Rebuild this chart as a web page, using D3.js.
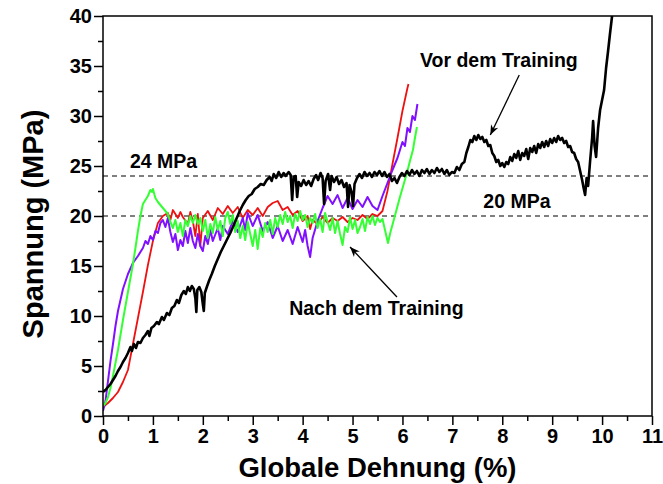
<!DOCTYPE html>
<html>
<head>
<meta charset="utf-8">
<script src="https://cdn.jsdelivr.net/npm/d3@7"></script>
<style>
  html, body { margin: 0; padding: 0; background: #fff; }
  svg { display: block; font-family: "Liberation Sans", Arial, sans-serif; font-weight: bold; }
</style>
</head>
<body>
<div id="chart"></div>
<script>
// Stress-strain curves: [strain %, stress MPa]
const vorTraining = [
  [0.00,2.4],[0.05,2.6],[0.10,2.9],[0.15,3.2],[0.20,3.6],[0.25,4.0],[0.30,4.5],[0.35,4.9],[0.40,5.4],[0.45,5.8],
  [0.50,6.3],[0.55,6.9],[0.58,6.5],[0.62,7.2],[0.66,6.8],[0.70,7.4],[0.75,7.3],[0.80,7.8],[0.85,8.1],[0.90,8.5],
  [0.93,8.0],[0.97,8.8],[1.02,9.0],[1.08,9.4],[1.12,9.2],[1.18,9.9],[1.22,9.6],[1.28,10.3],[1.33,10.1],[1.38,10.8],
  [1.43,11.0],[1.48,11.6],[1.52,11.3],[1.57,12.1],[1.62,12.5],[1.66,12.2],[1.70,12.9],[1.74,12.5],[1.78,13.0],[1.82,12.7],
  [1.85,11.8],[1.87,10.4],[1.89,12.6],[1.93,12.9],[1.97,12.4],[2.00,11.2],[2.02,10.5],[2.04,12.3],[2.08,12.9],[2.13,13.6],
  [2.18,14.2],[2.24,15.0],[2.30,15.7],[2.36,16.4],[2.42,17.0],[2.48,17.6],[2.55,18.3],[2.62,19.1],[2.68,19.8],[2.74,20.5],
  [2.80,21.1],[2.86,21.6],[2.92,22.0],[2.98,22.2],[3.04,22.7],[3.10,22.9],[3.16,23.2],[3.22,23.1],[3.28,23.6],[3.34,23.9],
  [3.38,23.5],[3.42,24.2],[3.47,23.8],[3.52,24.4],[3.57,23.9],[3.62,24.3],[3.66,24.0],[3.72,24.4],[3.76,24.1],[3.79,21.6],
  [3.82,23.9],[3.86,24.0],[3.89,21.9],[3.92,23.4],[3.97,23.0],[4.02,23.6],[4.07,23.1],[4.12,23.5],[4.17,23.0],[4.22,23.7],
  [4.27,24.1],[4.31,23.6],[4.36,24.3],[4.40,23.8],[4.43,21.2],[4.46,23.5],[4.51,24.2],[4.55,22.6],[4.58,24.0],[4.63,23.4],
  [4.68,23.9],[4.73,23.2],[4.78,23.6],[4.83,22.9],[4.88,23.3],[4.91,20.9],[4.94,23.1],[4.98,22.4],[5.01,21.0],[5.04,23.2],
  [5.09,23.8],[5.14,24.2],[5.19,23.8],[5.24,24.4],[5.29,24.0],[5.34,24.3],[5.39,23.9],[5.44,24.4],[5.49,24.1],[5.54,24.5],
  [5.59,24.0],[5.64,24.4],[5.69,23.9],[5.74,24.2],[5.79,23.5],[5.84,23.8],[5.89,23.3],[5.94,23.9],[5.99,24.3],[6.04,24.0],
  [6.09,24.5],[6.14,24.1],[6.19,24.6],[6.24,24.2],[6.29,24.5],[6.34,24.0],[6.39,24.6],[6.44,24.3],[6.49,24.7],[6.54,24.2],
  [6.59,24.6],[6.64,24.3],[6.69,24.8],[6.74,24.4],[6.79,24.7],[6.84,24.2],[6.89,24.6],[6.94,24.1],[6.99,24.4],[7.04,24.3],
  [7.09,24.9],[7.14,24.6],[7.19,25.2],[7.24,25.4],[7.28,26.3],[7.32,26.9],[7.36,27.6],[7.40,27.4],[7.44,28.0],[7.48,27.6],
  [7.52,28.1],[7.56,27.7],[7.60,27.9],[7.64,27.4],[7.68,27.6],[7.72,27.0],[7.76,27.1],[7.80,26.3],[7.84,26.0],[7.88,25.4],
  [7.92,25.6],[7.96,25.0],[8.00,25.3],[8.04,24.9],[8.08,25.4],[8.12,25.2],[8.16,25.9],[8.20,25.5],[8.24,26.2],[8.28,25.8],
  [8.32,26.5],[8.36,25.6],[8.40,26.3],[8.44,26.0],[8.48,26.7],[8.52,25.7],[8.56,26.8],[8.60,26.4],[8.64,27.0],[8.68,26.3],
  [8.72,27.2],[8.76,26.8],[8.80,27.4],[8.84,26.9],[8.88,27.5],[8.92,27.0],[8.96,27.7],[9.00,27.3],[9.04,27.8],[9.08,27.4],
  [9.12,28.0],[9.16,27.6],[9.20,27.8],[9.24,27.3],[9.28,27.5],[9.32,26.9],[9.36,27.0],[9.40,26.4],[9.44,26.3],[9.48,25.7],
  [9.52,25.4],[9.56,24.5],[9.60,23.6],[9.63,22.8],[9.66,22.1],[9.69,23.8],[9.72,23.0],[9.76,25.5],[9.80,27.8],[9.82,29.5],
  [9.85,27.0],[9.88,25.9],[9.92,28.8],[9.96,30.6],[10.00,31.6],[10.04,32.6],[10.08,34.8],[10.12,36.5],[10.16,38.3],[10.20,40.0]
];

const nachRot = [
  [0.00,0.8],[0.05,1.1],[0.10,1.3],[0.20,1.8],[0.30,2.4],[0.40,3.4],[0.50,4.6],[0.60,7.2],[0.70,9.8],[0.80,12.4],
  [0.90,15.1],[1.00,17.5],[1.10,19.3],[1.20,20.0],[1.30,20.3],[1.35,19.6],[1.40,20.6],[1.50,19.8],[1.55,20.4],[1.60,19.9],
  [1.70,19.2],[1.75,20.4],[1.80,19.5],[1.85,18.0],[1.90,20.2],[1.95,17.0],[2.00,19.8],[2.10,20.5],[2.20,19.6],[2.30,20.8],
  [2.40,20.2],[2.50,21.0],[2.60,20.3],[2.70,20.9],[2.80,19.8],[2.90,20.6],[3.00,20.1],[3.10,20.8],[3.20,20.0],[3.30,20.9],
  [3.40,21.3],[3.50,21.5],[3.60,20.6],[3.70,20.9],[3.80,20.1],[3.90,20.5],[4.00,19.5],[4.10,20.0],[4.15,18.7],[4.20,19.6],
  [4.30,19.2],[4.40,19.9],[4.50,19.3],[4.60,19.8],[4.70,19.5],[4.80,19.9],[4.90,19.4],[5.00,19.8],[5.10,19.6],[5.20,20.1],
  [5.30,19.7],[5.40,20.2],[5.50,20.0],[5.60,20.5],[5.70,22.5],[5.80,25.2],[5.90,27.8],[6.00,30.5],[6.10,32.8],[6.12,33.2]
];

const nachViolett = [
  [0.00,0.5],[0.05,1.5],[0.10,3.5],[0.15,5.5],[0.20,7.2],[0.25,9.0],[0.30,10.5],[0.35,11.6],[0.40,12.7],[0.50,14.2],
  [0.60,15.3],[0.70,16.0],[0.80,16.8],[0.85,17.5],[0.90,17.2],[0.95,18.0],[1.00,17.6],[1.05,18.5],[1.10,18.3],[1.15,19.3],
  [1.20,19.6],[1.25,18.9],[1.30,19.8],[1.35,18.4],[1.40,17.4],[1.45,18.2],[1.50,16.6],[1.55,17.6],[1.60,17.0],[1.65,18.5],
  [1.70,17.3],[1.75,18.8],[1.80,17.5],[1.85,16.8],[1.90,18.2],[1.95,17.0],[2.00,16.5],[2.05,18.0],[2.10,17.2],[2.15,18.6],
  [2.20,17.5],[2.30,18.8],[2.35,17.6],[2.40,19.0],[2.50,18.2],[2.60,19.5],[2.70,18.4],[2.80,19.8],[2.85,18.6],[2.90,20.3],
  [3.00,19.0],[3.10,20.1],[3.20,18.5],[3.30,19.4],[3.40,17.8],[3.50,19.0],[3.60,17.5],[3.70,18.6],[3.80,17.2],[3.90,18.9],
  [4.00,17.4],[4.05,18.6],[4.10,17.0],[4.15,15.9],[4.20,17.8],[4.30,19.5],[4.40,20.8],[4.50,22.0],[4.60,21.2],[4.70,22.1],
  [4.80,20.8],[4.90,21.8],[5.00,20.7],[5.10,21.6],[5.20,20.9],[5.30,21.9],[5.40,21.0],[5.50,20.6],[5.60,22.0],[5.70,23.3],
  [5.80,24.6],[5.90,25.8],[6.00,27.4],[6.05,27.0],[6.10,28.8],[6.15,28.4],[6.20,30.0],[6.25,29.6],[6.30,31.2]
];

const nachGruen = [
  [0.00,1.0],[0.05,1.3],[0.10,1.9],[0.15,2.8],[0.20,4.0],[0.30,6.6],[0.40,9.6],[0.50,12.4],[0.60,15.2],[0.65,16.8],
  [0.70,18.5],[0.75,20.0],[0.80,21.2],[0.85,21.6],[0.90,22.0],[0.95,22.6],[0.98,22.4],[1.00,22.7],[1.05,21.8],[1.10,21.4],
  [1.15,21.1],[1.20,20.8],[1.25,20.5],[1.30,20.2],[1.35,19.4],[1.40,18.8],[1.45,19.6],[1.50,18.4],[1.55,19.3],[1.60,18.0],
  [1.65,19.6],[1.70,19.0],[1.75,20.0],[1.80,19.3],[1.85,20.1],[1.90,19.2],[1.95,19.8],[2.00,18.5],[2.05,19.6],[2.10,17.8],
  [2.15,19.2],[2.20,18.3],[2.25,19.9],[2.30,18.6],[2.35,19.5],[2.40,18.0],[2.45,19.8],[2.50,20.4],[2.55,19.2],[2.60,20.1],
  [2.65,18.4],[2.70,19.5],[2.75,17.8],[2.80,19.0],[2.85,17.6],[2.90,19.4],[2.95,18.2],[3.00,17.0],[3.05,18.6],[3.10,16.7],
  [3.15,18.8],[3.20,17.9],[3.25,19.3],[3.30,18.4],[3.35,19.6],[3.40,18.2],[3.45,19.8],[3.50,18.9],[3.55,20.1],[3.60,19.2],
  [3.65,20.4],[3.70,19.4],[3.75,20.0],[3.80,18.8],[3.85,20.2],[3.90,19.5],[3.95,20.5],[4.00,19.6],[4.05,20.1],[4.10,18.9],
  [4.15,19.8],[4.20,19.3],[4.25,20.2],[4.30,18.8],[4.35,19.7],[4.40,18.4],[4.45,20.3],[4.50,19.4],[4.55,18.6],[4.60,19.8],
  [4.65,18.3],[4.70,19.5],[4.75,18.2],[4.80,17.1],[4.85,18.9],[4.90,18.4],[4.95,19.9],[5.00,18.7],[5.05,19.6],[5.10,18.3],
  [5.15,18.9],[5.20,19.7],[5.25,18.5],[5.30,19.9],[5.35,19.2],[5.40,20.0],[5.45,19.1],[5.50,19.8],[5.55,19.4],[5.60,19.7],
  [5.65,18.6],[5.71,17.3],[5.76,18.4],[5.81,19.3],[5.88,20.6],[5.95,21.9],[6.02,23.1],[6.09,24.3],[6.15,25.5],[6.21,26.6],
  [6.25,27.8],[6.29,28.9]
];

const seriesList = [
  { name: "rot", data: nachRot, color: "#ee1111", width: 1.8 },
  { name: "violett", data: nachViolett, color: "#8010ff", width: 2 },
  { name: "gruen", data: nachGruen, color: "#33ff33", width: 2 },
  { name: "vor", data: vorTraining, color: "#000000", width: 2.6 }
];

const xMajor = [0,1,2,3,4,5,6,7,8,9,10,11];
const xMinor = [0.5,1.5,2.5,3.5,4.5,5.5,6.5,7.5,8.5,9.5,10.5];
const yMajor = [0,5,10,15,20,25,30,35,40];
const yMinor = [2.5,7.5,12.5,17.5,22.5,27.5,32.5,37.5];
const refLines = [24, 20];

const W = 663, H = 484;
const margin = { top: 16, right: 11, bottom: 68, left: 103 };
const iw = W - margin.left - margin.right;
const ih = H - margin.top - margin.bottom;

const svg = d3.select("#chart").append("svg")
  .attr("width", W).attr("height", H)
  .attr("viewBox", `0 0 ${W} ${H}`);

const defs = svg.append("defs");
defs.append("clipPath").attr("id", "plotclip")
  .append("rect").attr("width", iw).attr("height", ih);
defs.append("marker")
  .attr("id", "arrow")
  .attr("viewBox", "0 0 10 10")
  .attr("refX", 10).attr("refY", 5)
  .attr("markerWidth", 10).attr("markerHeight", 10)
  .attr("markerUnits", "userSpaceOnUse")
  .attr("orient", "auto")
  .append("path")
  .attr("d", "M0,1 L10,5 L0,9 L3,5 Z")
  .attr("fill", "#000");

const g = svg.append("g").attr("transform", `translate(${margin.left},${margin.top})`);

const x = d3.scaleLinear().domain([0, 11]).range([0, iw]);
const y = d3.scaleLinear().domain([0, 40]).range([ih, 0]);

// reference dashed lines
g.selectAll("line.ref").data(refLines).join("line")
  .attr("class", "ref")
  .attr("x1", 0).attr("x2", iw)
  .attr("y1", d => y(d)).attr("y2", d => y(d))
  .attr("stroke", "#000").attr("stroke-width", 1)
  .attr("stroke-dasharray", "5,4");

// curves
const line = d3.line().x(d => x(d[0])).y(d => y(d[1]));
g.append("g").attr("clip-path", "url(#plotclip)")
  .selectAll("path.curve").data(seriesList).join("path")
  .attr("class", "curve")
  .attr("d", d => line(d.data))
  .attr("fill", "none")
  .attr("stroke", d => d.color)
  .attr("stroke-width", d => d.width)
  .attr("stroke-linejoin", "round");

// axes
const tickFont = 20;
const xAxis = g.append("g").attr("transform", `translate(0,${ih})`)
  .call(d3.axisBottom(x).tickValues(xMajor).tickSize(9).tickPadding(4).tickFormat(d3.format("d")));
const xAxisMinor = g.append("g").attr("transform", `translate(0,${ih})`)
  .call(d3.axisBottom(x).tickValues(xMinor).tickSize(5).tickFormat(""));
const yAxis = g.append("g")
  .call(d3.axisLeft(y).tickValues(yMajor).tickSize(9).tickPadding(2).tickFormat(d3.format("d")));
const yAxisMinor = g.append("g")
  .call(d3.axisLeft(y).tickValues(yMinor).tickSize(5).tickFormat(""));

[xAxis, xAxisMinor, yAxis, yAxisMinor].forEach(a => {
  a.select(".domain").remove();
  a.selectAll(".tick line").attr("stroke", "#000").attr("stroke-width", 1.5);
  a.selectAll(".tick text")
    .attr("fill", "#000")
    .attr("font-size", tickFont)
    .attr("font-weight", "bold")
    .attr("font-family", "'Liberation Sans', Arial, sans-serif");
});

// frame
g.append("rect")
  .attr("width", iw).attr("height", ih)
  .attr("fill", "none").attr("stroke", "#000").attr("stroke-width", 1.5);

// axis titles
svg.append("text")
  .attr("x", margin.left + iw / 2 + 0).attr("y", 477)
  .attr("text-anchor", "middle")
  .attr("font-size", 27.5)
  .text("Globale Dehnung (%)");
svg.append("text")
  .attr("transform", `translate(43,${margin.top + ih / 2 + 8}) rotate(-90)`)
  .attr("text-anchor", "middle")
  .attr("font-size", 29)
  .text("Spannung (MPa)");

// annotations
const notes = [
  { text: "24 MPa", x: 0.54, y: 24.8 },
  { text: "20 MPa", x: 7.62, y: 20.8 },
  { text: "Vor dem Training", x: 6.35, y: 34.9 },
  { text: "Nach dem Training", x: 3.73, y: 10.1 }
];
g.selectAll("text.note").data(notes).join("text")
  .attr("class", "note")
  .attr("x", d => x(d.x)).attr("y", d => y(d.y))
  .attr("font-size", 19.5)
  .text(d => d.text);

const arrows = [
  { from: [8.34, 34.1], to: [7.76, 28.1] },
  { from: [5.89, 11.9], to: [4.95, 16.9] }
];
g.selectAll("line.arrow").data(arrows).join("line")
  .attr("class", "arrow")
  .attr("x1", d => x(d.from[0])).attr("y1", d => y(d.from[1]))
  .attr("x2", d => x(d.to[0])).attr("y2", d => y(d.to[1]))
  .attr("stroke", "#000").attr("stroke-width", 1.3)
  .attr("marker-end", "url(#arrow)");
</script>
</body>
</html>
